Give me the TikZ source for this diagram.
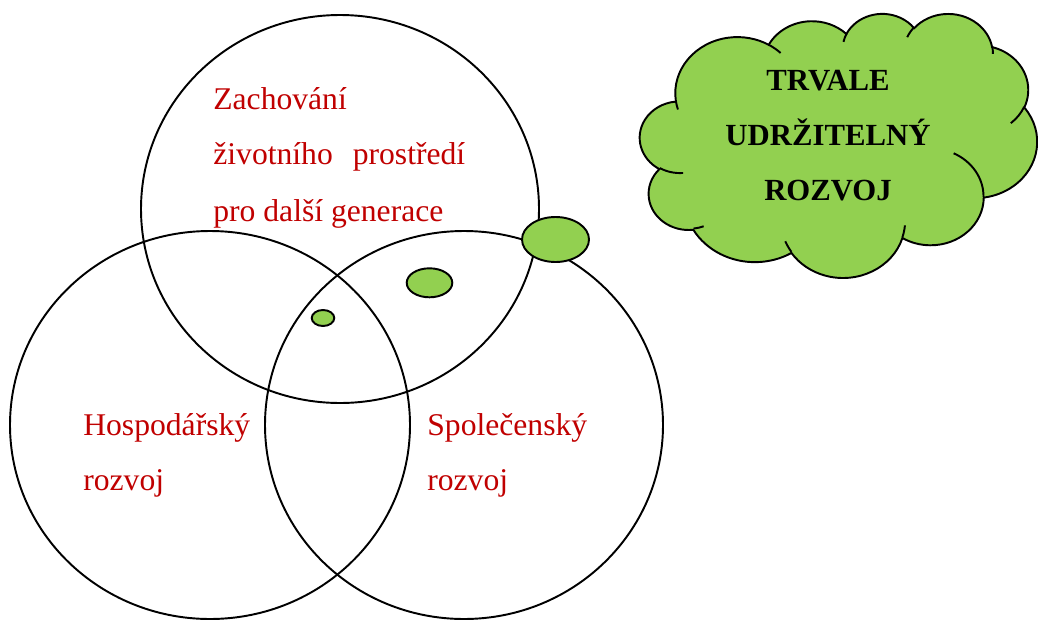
\documentclass[tikz,border=0pt]{standalone}
\usepackage{fontspec}
\setmainfont{Liberation Serif}
\definecolor{leaf}{HTML}{92D050}
\definecolor{darkred}{HTML}{C00000}
\begin{document}
\begin{tikzpicture}[x=0.02cm, y=-0.02cm,
  ring/.style={draw=black, line width=1.1pt},
  blob/.style={draw=black, line width=1.1pt, fill=leaf},
  redtext/.style={text=darkred, anchor=base west, inner sep=0pt,
    font=\fontsize{18}{20}\selectfont},
  cloudtext/.style={anchor=base, inner sep=0pt,
    font=\fontsize{17.5}{20}\selectfont\bfseries}]
\useasboundingbox (0,0) rectangle (1038,619);

% three overlapping circles
\draw[ring] (340,209) ellipse [x radius=199, y radius=194];
\draw[ring] (210,425) ellipse [x radius=200, y radius=194];
\draw[ring] (464,425) ellipse [x radius=199, y radius=194];

% small green spots
\draw[blob] (555.5,239.5) ellipse [x radius=33.5, y radius=22.5];
\draw[blob] (429.5,282.8) ellipse [x radius=22.8, y radius=14.5];
\draw[blob] (323,318) ellipse [x radius=11.3, y radius=8];

% labels of the circles
\node[redtext] (zach) at (213,109) {Zachování};
\node[redtext] (ziv) at (213,164) {životního\hspace{0.4cm}prostředí};
\node[redtext] (pro) at (213,221) {pro další generace};
\node[redtext] (hosp) at (83,435) {Hospodářský};
\node[redtext] (hrozvoj) at (83,490) {rozvoj};
\node[redtext] (spol) at (427,435) {Společenský};
\node[redtext] (srozvoj) at (427,490) {rozvoj};

% cloud (outline built from elliptic bumps, plus inner creases)
\begin{scope}[shift={(640,13)}, xscale=9.19, yscale=6.111]
  \draw[blob] (3.900,14.370)
    arc[start angle=172.25, delta angle=128.12, x radius=6.753, y radius=9.190]
    arc[start angle=-152.02, delta angle=106.59, x radius=5.333, y radius=7.267]
    arc[start angle=-153.47, delta angle=116.14, x radius=4.365, y radius=5.945]
    arc[start angle=-139.70, delta angle=129.49, x radius=4.857, y radius=6.595]
    arc[start angle=-74.77, delta angle=97.98, x radius=5.333, y radius=7.273]
    arc[start angle=-37.53, delta angle=119.39, x radius=6.775, y radius=9.220]
    arc[start angle=0.46, delta angle=121.53, x radius=5.785, y radius=7.867]
    arc[start angle=16.84, delta angle=129.43, x radius=6.752, y radius=9.215]
    arc[start angle=58.99, delta angle=91.21, x radius=7.720, y radius=10.543]
    arc[start angle=83.31, delta angle=139.81, x radius=4.360, y radius=5.918]
    arc[start angle=120.36, delta angle=143.75, x radius=4.345, y radius=5.945]
    -- cycle;
  \draw[line width=1.1pt]
    (4.693,26.177) arc[start angle=85.55, delta angle=34.81, x radius=4.345, y radius=5.945]
    (6.928,34.899) arc[start angle=68.23, delta angle=15.08, x radius=4.360, y radius=5.918]
    (16.478,39.090) arc[start angle=146.27, delta angle=12.20, x radius=6.752, y radius=9.215]
    (28.827,34.751) arc[start angle=4.74, delta angle=12.10, x radius=6.752, y radius=9.215]
    (34.129,22.954) arc[start angle=-64.03, delta angle=64.49, x radius=5.785, y radius=7.867]
    (41.798,15.354) arc[start angle=23.21, delta angle=26.42, x radius=5.333, y radius=7.273]
    (38.324,5.426) arc[start angle=-10.21, delta angle=11.03, x radius=4.857, y radius=6.595]
    (29.078,3.952) arc[start angle=-156.29, delta angle=16.59, x radius=4.857, y radius=6.595]
    (22.141,4.720) arc[start angle=-167.73, delta angle=14.26, x radius=4.365, y radius=5.945]
    (14.000,5.192) arc[start angle=-59.63, delta angle=13.92, x radius=6.753, y radius=9.190]
    (4.127,15.789) arc[start angle=163.19, delta angle=9.06, x radius=6.753, y radius=9.190];
\end{scope}

\node[cloudtext] (t1) at (828,90) {TRVALE};
\node[cloudtext] (t2) at (828,145) {UDRŽITELNÝ};
\node[cloudtext] (t3) at (828,200) {ROZVOJ};
\end{tikzpicture}
\end{document}
